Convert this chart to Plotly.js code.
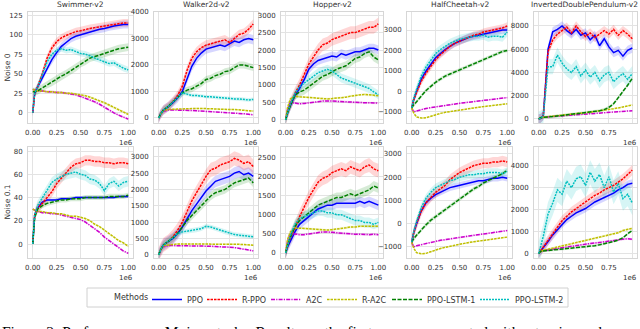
<!DOCTYPE html>
<html>
<head>
<meta charset="utf-8">
<script src="https://cdn.plot.ly/plotly-3.0.1.min.js"></script>
<style>
  body { margin: 0; background: #fff; }
  #graph { width: 640px; height: 329px; }
</style>
</head>
<body>
<div id="graph"></div>
<script>
// training steps (x 1e6)
const steps = [0, 0.02, 0.05, 0.1, 0.15, 0.2, 0.25, 0.3, 0.35, 0.4, 0.45, 0.5, 0.55, 0.6, 0.65, 0.7, 0.75, 0.8, 0.85, 0.9, 0.95, 1.0]
const methods = ['PPO', 'R-PPO', 'A2C', 'R-A2C', 'PPO-LSTM-1', 'PPO-LSTM-2']
const envs = ['Swimmer-v2', 'Walker2d-v2', 'Hopper-v2', 'HalfCheetah-v2', 'InvertedDoublePendulum-v2']

// ---- Noise 0 ----  order: PPO, R-PPO, A2C, R-A2C, PPO-LSTM-1, PPO-LSTM-2
const swimmerN0 = [
  [0, 25, 33, 45, 58, 68, 77, 85, 90, 95, 98, 100, 102, 104, 106, 107, 108, 110, 111, 112, 113, 113],
  [0, 25, 33, 50, 70, 83, 91, 96, 99, 102, 104, 105, 107, 108, 109, 110, 111, 112, 113, 114, 115, 115],
  [30, 29, 28, 28, 27, 27, 26, 26, 25, 24, 23, 21, 19, 17, 14, 11, 7, 3, 0, -3, -6, -8],
  [30, 29, 28, 28, 27, 27, 26, 26, 25, 25, 24, 23, 22, 20, 18, 16, 13, 10, 7, 4, 1, -2],
  [27, 27, 28, 32, 36, 39, 43, 47, 50, 54, 58, 63, 66, 70, 72, 74, 76, 78, 80, 82, 83, 84],
  [0, 25, 33, 50, 65, 75, 80, 82, 80, 81, 78, 76, 75, 73, 70, 68, 66, 63, 64, 60, 57, 55]
]
const swimmerN0Std = [5, 5, 1.5, 1.5, 5, 4]

const walkerN0 = [
  [0, 150, 300, 420, 580, 760, 1000, 1500, 1950, 2250, 2450, 2600, 2650, 2700, 2750, 2700, 2800, 2900, 2850, 2950, 3000, 2950],
  [0, 150, 300, 430, 620, 850, 1200, 1800, 2250, 2500, 2650, 2750, 2800, 2850, 2900, 2950, 2850, 3000, 3150, 3200, 3350, 3550],
  [0, 150, 250, 300, 300, 300, 290, 280, 280, 270, 260, 260, 250, 240, 230, 220, 210, 200, 180, 160, 140, 120],
  [0, 150, 270, 320, 330, 340, 350, 360, 370, 360, 360, 350, 350, 340, 340, 330, 320, 320, 300, 300, 280, 260],
  [0, 150, 300, 430, 600, 780, 950, 1050, 1100, 1200, 1300, 1450, 1500, 1600, 1650, 1750, 1780, 1900, 2000, 2000, 1950, 1900],
  [0, 150, 300, 430, 600, 780, 950, 900, 850, 850, 820, 800, 800, 780, 760, 760, 740, 720, 720, 700, 680, 700]
]
const walkerN0Std = [180, 180, 30, 30, 130, 70]

const hopperN0 = [
  [0, 200, 400, 700, 900, 1150, 1450, 1600, 1700, 1750, 1800, 1830, 1800, 1900, 1850, 1900, 1950, 1950, 2000, 2050, 2050, 2000],
  [0, 200, 450, 750, 1000, 1300, 1600, 1800, 2000, 2150, 2200, 2300, 2350, 2400, 2450, 2500, 2500, 2550, 2600, 2650, 2650, 2750],
  [0, 300, 500, 480, 460, 470, 480, 500, 520, 540, 550, 540, 530, 520, 510, 500, 500, 490, 490, 490, 480, 480],
  [0, 350, 600, 680, 660, 650, 640, 640, 620, 600, 600, 610, 620, 640, 650, 680, 700, 720, 730, 720, 700, 690],
  [0, 200, 400, 700, 800, 850, 950, 1050, 1150, 1250, 1300, 1380, 1450, 1500, 1550, 1650, 1760, 1800, 1900, 1950, 1800, 1720],
  [0, 200, 450, 750, 950, 1050, 1150, 1250, 1350, 1400, 1450, 1400, 1300, 1200, 1150, 1100, 1050, 1000, 950, 900, 800, 720]
]
const hopperN0Std = [130, 180, 30, 30, 130, 130]

const cheetahN0 = [
  [-800, -400, 0, 600, 1000, 1350, 1650, 1850, 2050, 2200, 2350, 2450, 2550, 2650, 2700, 2750, 2800, 2850, 2900, 2950, 3000, 3000],
  [-800, -400, -50, 500, 900, 1250, 1550, 1800, 2000, 2200, 2350, 2450, 2550, 2650, 2750, 2800, 2900, 2950, 3000, 3050, 3100, 3200],
  [-800, -1000, -950, -880, -830, -790, -750, -710, -680, -640, -610, -580, -550, -520, -490, -460, -430, -400, -380, -350, -320, -300],
  [-800, -1050, -1250, -1300, -1280, -1200, -1130, -1070, -1020, -980, -940, -900, -860, -830, -800, -770, -740, -710, -680, -650, -620, -600],
  [-800, -650, -500, -200, 50, 250, 450, 600, 750, 850, 950, 1050, 1150, 1250, 1350, 1450, 1550, 1650, 1750, 1850, 1950, 2000],
  [-800, -350, 100, 750, 1200, 1550, 1850, 2050, 2200, 2350, 2450, 2550, 2600, 2650, 2700, 2700, 2750, 2650, 2700, 2700, 2650, 2900]
]
const cheetahN0Std = [180, 180, 30, 30, 90, 220]

const pendulumN0 = [
  [0, 50, 300, 6000, 7500, 7700, 8000, 7600, 7300, 7700, 7200, 7400, 6800, 7200, 6300, 6900, 6200, 5700, 5900, 5400, 5900, 6100],
  [0, 50, 300, 5800, 6800, 7300, 7600, 7900, 7400, 8000, 7500, 7100, 7400, 7000, 7300, 7600, 7300, 7700, 7200, 7600, 7300, 6900],
  [0, 100, 150, 180, 220, 260, 300, 340, 380, 400, 430, 460, 490, 520, 550, 580, 600, 630, 650, 670, 680, 700],
  [0, 100, 150, 200, 250, 300, 350, 400, 430, 470, 500, 540, 580, 630, 680, 740, 800, 880, 950, 1050, 1150, 1200],
  [0, 100, 150, 150, 200, 250, 300, 350, 350, 400, 450, 500, 550, 600, 700, 800, 1000, 1300, 1800, 2300, 2900, 3500],
  [0, 50, 300, 4500, 4500, 5500, 4800, 4300, 4000, 4500, 3700, 4200, 3600, 4000, 3300, 3800, 4000, 3200, 3600, 3900, 3400, 3900]
]
const pendulumN0Std = [400, 400, 50, 50, 130, 650]

// ---- Noise 0.1 ----
const swimmerN1 = [
  [0, 25, 31, 36, 38, 38, 38, 39, 39, 39, 40, 40, 40, 40, 40, 40, 40, 40, 40, 41, 41, 41],
  [0, 25, 31, 35, 40, 45, 52, 57, 62, 66, 69, 70, 72, 72, 71, 71, 70, 70, 69, 70, 70, 69],
  [30, 29, 28, 27, 27, 26, 26, 25, 24, 23, 22, 21, 19, 16, 13, 10, 6, 3, 0, -3, -6, -8],
  [30, 29, 28, 28, 27, 27, 26, 26, 25, 24, 24, 23, 22, 20, 17, 15, 12, 9, 6, 3, 1, -2],
  [0, 23, 30, 33, 35, 36, 37, 38, 38, 39, 39, 39, 40, 40, 40, 40, 40, 41, 41, 41, 41, 42],
  [0, 25, 33, 40, 46, 53, 56, 58, 60, 61, 62, 60, 59, 56, 55, 52, 46, 52, 54, 50, 53, 54]
]
const swimmerN1Std = [1.2, 4.5, 0.8, 0.8, 2.2, 4.5]

const walkerN1 = [
  [0, 150, 300, 400, 500, 650, 850, 1100, 1350, 1550, 1750, 1950, 2100, 2250, 2300, 2350, 2400, 2500, 2550, 2450, 2500, 2400],
  [0, 150, 300, 400, 550, 750, 1000, 1350, 1650, 1900, 2150, 2400, 2600, 2650, 2750, 2800, 2850, 2950, 2900, 2800, 2850, 2700],
  [0, 150, 250, 280, 280, 280, 280, 270, 270, 270, 270, 260, 260, 250, 250, 240, 230, 220, 200, 170, 150, 120],
  [0, 150, 280, 300, 320, 330, 330, 330, 330, 320, 320, 320, 330, 330, 340, 340, 340, 330, 320, 310, 300, 290],
  [0, 150, 300, 400, 520, 650, 850, 1050, 1200, 1350, 1500, 1650, 1800, 1900, 1950, 2000, 2100, 2200, 2250, 2300, 2350, 2200],
  [0, 150, 300, 400, 520, 650, 700, 720, 740, 760, 800, 870, 850, 800, 750, 700, 650, 620, 600, 580, 560, 550]
]
const walkerN1Std = [180, 220, 25, 25, 130, 70]

const hopperN1 = [
  [0, 150, 300, 550, 750, 850, 950, 1050, 1150, 1200, 1250, 1250, 1300, 1300, 1300, 1300, 1300, 1350, 1300, 1350, 1300, 1250],
  [0, 200, 400, 650, 950, 1200, 1450, 1650, 1850, 1950, 2000, 2100, 2150, 2200, 2150, 2250, 2200, 2150, 2250, 2300, 2200, 2150],
  [0, 300, 500, 500, 480, 480, 500, 520, 540, 550, 550, 540, 520, 510, 500, 500, 490, 490, 480, 480, 490, 480],
  [0, 350, 550, 650, 650, 640, 640, 620, 620, 600, 600, 610, 620, 640, 660, 680, 680, 700, 700, 700, 700, 700],
  [0, 200, 400, 700, 850, 950, 1050, 1150, 1250, 1300, 1350, 1400, 1450, 1450, 1500, 1550, 1500, 1550, 1600, 1650, 1750, 1700],
  [0, 200, 450, 750, 900, 950, 1000, 1050, 1100, 1100, 1050, 1050, 1000, 1000, 950, 900, 850, 850, 800, 800, 750, 800]
]
const hopperN1Std = [130, 180, 30, 30, 130, 130]

const cheetahN1 = [
  [-800, -400, 0, 550, 900, 1100, 1250, 1350, 1450, 1550, 1600, 1650, 1700, 1750, 1800, 1850, 1850, 1900, 1950, 1950, 2000, 1950],
  [-800, -400, 0, 550, 900, 1150, 1350, 1500, 1650, 1900, 2050, 2200, 2300, 2400, 2500, 2550, 2600, 2600, 2650, 2650, 2700, 2650],
  [-800, -1000, -950, -900, -850, -800, -760, -720, -690, -650, -620, -590, -560, -530, -500, -470, -440, -410, -380, -350, -330, -300],
  [-800, -1050, -1250, -1300, -1280, -1200, -1130, -1070, -1020, -970, -930, -890, -850, -810, -780, -750, -720, -690, -660, -630, -600, -580],
  [-800, -650, -500, -250, -50, 150, 300, 450, 600, 750, 900, 1050, 1200, 1350, 1500, 1600, 1750, 1850, 1950, 2050, 2150, 2300],
  [-800, -350, 100, 700, 1100, 1350, 1550, 1650, 1750, 1850, 1900, 2000, 2050, 2100, 2100, 2150, 2150, 2200, 2200, 2200, 2150, 2250]
]
const cheetahN1Std = [140, 220, 30, 30, 90, 180]

const pendulumN1 = [
  [0, 100, 280, 550, 850, 1100, 1350, 1550, 1700, 1850, 1950, 2050, 2200, 2350, 2450, 2550, 2650, 2750, 2900, 3000, 3150, 3200],
  [0, 100, 300, 600, 900, 1200, 1500, 1700, 1900, 2050, 2200, 2350, 2500, 2650, 2750, 2900, 3000, 3100, 3250, 3400, 3600, 3800],
  [0, 100, 130, 170, 200, 230, 270, 300, 330, 370, 400, 430, 460, 480, 510, 540, 570, 600, 630, 660, 680, 650],
  [0, 100, 150, 200, 250, 300, 350, 400, 450, 500, 550, 600, 650, 700, 750, 800, 850, 900, 950, 1050, 1100, 1150],
  [0, 100, 120, 140, 160, 180, 200, 220, 240, 260, 280, 300, 330, 360, 400, 440, 490, 550, 620, 720, 900, 1050],
  [0, 300, 800, 1800, 2300, 2900, 2700, 3300, 3000, 3400, 3500, 3100, 3700, 3300, 3600, 3000, 3500, 2800, 3200, 2500, 2700, 2300]
]
const pendulumN1Std = [180, 230, 50, 50, 50, 550]

const panelData = [swimmerN0, walkerN0, hopperN0, cheetahN0, pendulumN0,
                   swimmerN1, walkerN1, hopperN1, cheetahN1, pendulumN1]
const panelStd = [swimmerN0Std, walkerN0Std, hopperN0Std, cheetahN0Std, pendulumN0Std,
                  swimmerN1Std, walkerN1Std, hopperN1Std, cheetahN1Std, pendulumN1Std]
const yRanges = [[-13, 129], [-190, 4000], [-90, 3090], [-1540, 3880], [-350, 9200],
                 [-12, 83.5], [-100, 3300], [-130, 2770], [-1480, 3300], [-200, 4850]]
const yDticks = [25, 1000, 500, 1000, 2000, 20, 500, 500, 1000, 1000]

const colors = ['#0000ff', '#ff0000', '#cc00cc', '#bfbf00', '#008000', '#00bfbf']
const bands = ['rgba(0,0,255,0.16)', 'rgba(255,0,0,0.16)', 'rgba(204,0,204,0.16)',
               'rgba(191,191,0,0.16)', 'rgba(0,128,0,0.16)', 'rgba(0,191,191,0.16)']
const dashes = ['solid', '2.5px,1px', '4px,1.2px,1.2px,1.2px', '2.5px,1px', '4px,1.5px', '2px,1px']
const legendWidths = [10, 19, 11, 20, 43, 43]

// pixel layout of the 2x5 grid
const W = 640, H = 329
const colPx = [[28, 133], [154, 258], [281, 383], [407, 512], [534, 637]]
const rowPx = [[12, 123], [147, 258]]

const traces = []
const layout = {
  width: W, height: H,
  margin: {l: 0, r: 0, t: 0, b: 0},
  paper_bgcolor: '#fff',
  plot_bgcolor: '#fff',
  font: {family: 'DejaVu Sans', size: 7, color: '#333'},
  showlegend: true,
  legend: {
    orientation: 'h',
    x: 147 / W, xanchor: 'left',
    y: 1 - 285 / H, yanchor: 'top',
    borderwidth: 0, bgcolor: 'rgba(0,0,0,0)',
    font: {size: 8, color: '#333'},
    itemwidth: 30
  },
  shapes: [{
    type: 'rect', xref: 'paper', yref: 'paper',
    x0: 87 / W, x1: 568 / W, y0: 1 - 307 / H, y1: 1 - 288 / H,
    line: {color: '#d0d0d0', width: 1}
  }],
  annotations: [{
    text: 'Methods', xref: 'paper', yref: 'paper',
    x: 131 / W, y: 1 - 297.5 / H, xanchor: 'center', yanchor: 'middle',
    showarrow: false, font: {size: 8, color: '#333'}
  }]
}

for (let p = 0; p < 10; p++) {
  const r = Math.floor(p / 5), c = p % 5
  const n = p + 1
  const xa = n === 1 ? 'x' : 'x' + n
  const ya = n === 1 ? 'y' : 'y' + n
  const xKey = n === 1 ? 'xaxis' : 'xaxis' + n
  const yKey = n === 1 ? 'yaxis' : 'yaxis' + n

  layout[xKey] = {
    domain: [colPx[c][0] / W, colPx[c][1] / W],
    anchor: ya,
    range: [-0.05, 1.05],
    tickvals: [0, 0.25, 0.5, 0.75, 1.0],
    tickformat: '.2f',
    showgrid: true, gridcolor: '#e3e3e3', gridwidth: 1,
    zeroline: false,
    showline: true, mirror: true, linecolor: '#d6d6d6', linewidth: 1,
    ticks: '', ticklabelstandoff: 3,
    tickfont: {size: 7, color: '#333'}
  }
  layout[yKey] = {
    domain: [1 - rowPx[r][1] / H, 1 - rowPx[r][0] / H],
    anchor: xa,
    range: yRanges[p],
    dtick: yDticks[p],
    tick0: 0,
    showgrid: true, gridcolor: '#e3e3e3', gridwidth: 1,
    zeroline: false,
    showline: true, mirror: true, linecolor: '#d6d6d6', linewidth: 1,
    ticks: '', ticklabelstandoff: 3,
    tickfont: {size: 7, color: '#333'}
  }

  const data = panelData[p]
  const std = panelStd[p]
  for (let m = 0; m < methods.length; m++) {
    const vals = data[m]
    const upper = vals.map(v => v + std[m])
    const lower = vals.map(v => v - std[m])
    traces.push({
      x: steps.concat(steps.slice().reverse()),
      y: upper.concat(lower.slice().reverse()),
      xaxis: xa, yaxis: ya,
      fill: 'toself', fillcolor: bands[m],
      line: {width: 0}, mode: 'lines',
      hoverinfo: 'skip', showlegend: false
    })
  }
  for (let m = 0; m < methods.length; m++) {
    traces.push({
      x: steps, y: data[m],
      xaxis: xa, yaxis: ya,
      mode: 'lines', name: methods[m],
      line: {color: colors[m], width: 1.5, dash: dashes[m]},
      showlegend: p === 0, legendgroup: methods[m],
      legendwidth: legendWidths[m]
    })
  }

  if (r === 0) {
    const last = c === envs.length - 1
    layout.annotations.push({
      text: envs[c], xref: 'paper', yref: 'paper',
      x: last ? 640 / W : (colPx[c][0] + colPx[c][1]) / 2 / W,
      y: 1 - (rowPx[0][0] - 0.5) / H,
      xanchor: last ? 'right' : 'center', yanchor: 'bottom', showarrow: false,
      font: {size: 7.5, color: '#333'}
    })
  }
  layout.annotations.push({
    text: '1e6', xref: 'paper', yref: 'paper',
    x: (colPx[c][1] + 2) / W, y: 1 - (rowPx[r][1] + 14) / H,
    xanchor: 'right', yanchor: 'top', showarrow: false,
    font: {size: 7, color: '#333'}
  })
}

const noiseLabels = ['Noise 0', 'Noise 0.1']
noiseLabels.forEach((t, r) => {
  layout.annotations.push({
    text: t, xref: 'paper', yref: 'paper', textangle: -90,
    x: 7 / W, y: 1 - (rowPx[r][0] + rowPx[r][1]) / 2 / H,
    xanchor: 'center', yanchor: 'middle', showarrow: false,
    font: {size: 7.5, color: '#333'}
  })
})

// figure caption, cut by the page edge
layout.annotations.push({
  text: 'Figure 2: Performance on Mujoco tasks. Results on the first row are computed without noise and',
  xref: 'paper', yref: 'paper', x: 0, y: 1 - 321 / H,
  xanchor: 'left', yanchor: 'top', showarrow: false,
  font: {family: 'Liberation Serif', size: 15.5, color: '#000'}
})

Plotly.newPlot('graph', traces, layout, {displayModeBar: false, staticPlot: true})
</script>
</body>
</html>
